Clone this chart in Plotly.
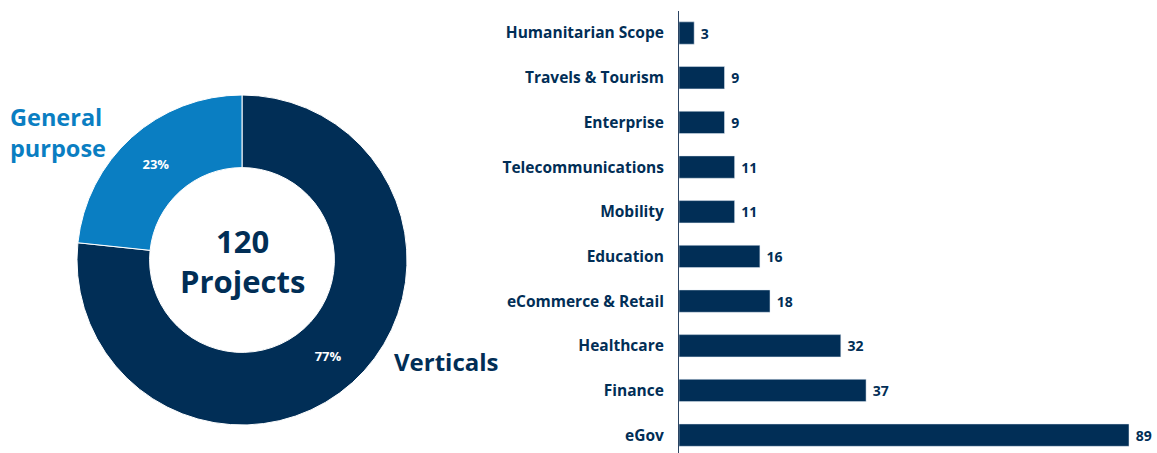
import plotly.graph_objects as go

# Donut: project split
split_labels = ["Verticals", "General purpose"]
split_values = [92, 28]
total_projects = 120

# Bars: projects per vertical (bottom to top)
verticals = ["eGov", "Finance", "Healthcare", "eCommerce & Retail", "Education",
             "Mobility", "Telecommunications", "Enterprise", "Travels & Tourism",
             "Humanitarian Scope"]
vertical_counts = [89, 37, 32, 18, 16, 11, 11, 9, 9, 3]

NAVY = "#012e56"
BLUE = "#0a7ec2"
FONT = "Open Sans"

W, H = 1157, 453

fig = go.Figure()

# donut geometry in pixels
cx, cy, r = 242, 260, 165
fig.add_trace(go.Pie(
    labels=split_labels,
    values=split_values,
    hole=0.56,
    sort=False,
    direction="clockwise",
    rotation=0,
    marker=dict(colors=[NAVY, BLUE], line=dict(color="white", width=1)),
    texttemplate="%{percent:.0%}",
    textposition="inside",
    insidetextorientation="horizontal",
    textfont=dict(family=FONT, size=13, color="white", weight=700),
    domain=dict(x=[(cx - r) / W, (cx + r) / W],
                y=[(H - cy - r) / H, (H - cy + r) / H]),
    showlegend=False,
    hoverinfo="label+value+percent",
))

fig.add_trace(go.Bar(
    x=vertical_counts,
    y=verticals,
    orientation="h",
    marker=dict(color=NAVY),
    texttemplate=" %{x}",
    textposition="outside",
    textfont=dict(family=FONT, size=14, color=NAVY, weight=700),
    cliponaxis=False,
    showlegend=False,
    xaxis="x",
    yaxis="y",
))

axis_x0 = 679
px_per_unit = (1129 - axis_x0) / 89


def paper_y(py):
    return (H - py) / H


fig.update_layout(
    width=W, height=H,
    margin=dict(l=0, r=0, t=0, b=0),
    paper_bgcolor="white",
    plot_bgcolor="white",
    bargap=0.5,
    font=dict(family=FONT, color=NAVY),
    xaxis=dict(
        domain=[axis_x0 / W, 1.0],
        range=[0, (W - axis_x0) / px_per_unit],
        visible=False,
        fixedrange=True,
    ),
    yaxis=dict(
        domain=[0, 1 - 10.7 / H],
        range=[-0.4, 9.5],
        anchor="x",
        showline=True,
        linecolor="#2c4462",
        linewidth=1,
        showgrid=False,
        zeroline=False,
        ticks="",
        ticklabelstandoff=11,
        tickfont=dict(family=FONT, size=15.5, color=NAVY, weight=700),
        fixedrange=True,
    ),
    annotations=[
        dict(text="120<br>Projects", x=cx / W, y=paper_y(261), xref="paper", yref="paper",
             showarrow=False, font=dict(family=FONT, size=31, color=NAVY, weight=700),
             xanchor="center", yanchor="middle"),
        dict(text="General<br>purpose", x=8 / W, y=paper_y(133), xref="paper", yref="paper",
             showarrow=False, align="left",
             font=dict(family=FONT, size=23.5, color=BLUE, weight=700),
             xanchor="left", yanchor="middle"),
        dict(text="Verticals", x=392 / W, y=paper_y(361), xref="paper", yref="paper",
             showarrow=False, font=dict(family=FONT, size=24, color=NAVY, weight=700),
             xanchor="left", yanchor="middle"),
    ],
)

fig.write_html("out.html")
